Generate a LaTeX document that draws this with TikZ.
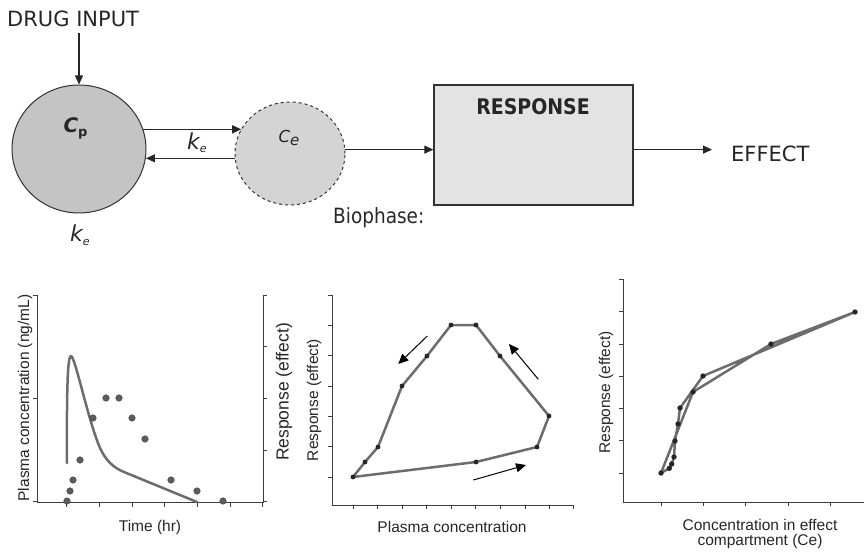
\documentclass[tikz,border=0pt]{standalone}
\usepackage{fontspec}
\setmainfont{DejaVu Sans}
\newfontfamily\narrowfont{DejaVu Sans}[FakeStretch=0.88]
\newfontfamily\plotfont{Liberation Sans}
\usetikzlibrary{arrows.meta,shapes.geometric}

\definecolor{cpgray}{RGB}{196,196,196}
\definecolor{cegray}{RGB}{212,212,212}
\definecolor{boxgray}{RGB}{227,227,227}
\definecolor{edgegray}{RGB}{50,50,50}
\definecolor{axisgray}{RGB}{60,60,60}
\definecolor{curvegray}{RGB}{108,108,108}
\definecolor{dotgray}{RGB}{92,92,92}

\begin{document}
\begin{tikzpicture}[x=1pt,y=-1pt,
  arr/.style={-{Triangle[length=9pt,width=8pt]}, line width=1.1pt, draw=black!85},
  toptext/.style={font=\fontsize{21}{24}\selectfont, text=black!85, inner sep=0pt},
  symlabel/.style={inner sep=0pt, anchor=base, text=black!85},
  axisline/.style={draw=axisgray, line width=0.9pt},
  curve/.style={draw=curvegray, line width=2.5pt, line join=round, line cap=round},
  plotlabel/.style={font=\plotfont\fontsize{15.5}{15}\selectfont, text=black!85, inner sep=0pt},
  flowarrow/.style={-{Triangle[length=10pt,width=9pt]}, line width=1pt, draw=black}
]
\useasboundingbox (0,0) rectangle (864,553);

% ---------------- compartment model ----------------
\node[toptext, anchor=base west] (drug) at (7,27) {DRUG INPUT};
\node[ellipse, draw=edgegray, line width=1pt, fill=cpgray,
      minimum width=134pt, minimum height=128pt, inner sep=0pt] (cp) at (79,149) {};
\node[ellipse, draw=edgegray, line width=1pt, dashed, fill=cegray,
      minimum width=110pt, minimum height=103pt, inner sep=0pt] (ce) at (290,153.5) {};
\node[rectangle, draw=edgegray, line width=1.3pt, fill=boxgray,
      minimum width=199pt, minimum height=120pt, inner sep=0pt] (box) at (533.5,145) {};
\node[toptext, anchor=west, inner xsep=19pt] (effect) at (712,154) {EFFECT};

\node[symlabel] (cplab) at (75.5,133)
  {{\fontsize{20}{20}\selectfont\bfseries\itshape C}\raisebox{-4pt}{\fontsize{13}{13}\selectfont\bfseries p}};
\node[symlabel] (celab) at (289,143)
  {{\fontsize{16.5}{16}\selectfont\itshape C}\raisebox{-3pt}{\fontsize{15}{15}\selectfont\itshape e}};
\node[symlabel] (kmid) at (197,150)
  {{\fontsize{22}{22}\selectfont\itshape k}\raisebox{-3pt}{\fontsize{11}{11}\selectfont\itshape e}};
\node[symlabel] (kbot) at (80,242)
  {{\fontsize{22}{22}\selectfont\itshape k}\raisebox{-4pt}{\fontsize{11}{11}\selectfont\itshape e}};
\node[inner sep=0pt, anchor=base west, text=black!85] (bio) at (333,224)
  {\narrowfont\fontsize{21}{21}\selectfont Biophase:};
\node[symlabel] (resp) at (533,115)
  {\narrowfont\fontsize{21.5}{22}\selectfont\bfseries RESPONSE};

\draw[arr] ([yshift=-6pt]drug.base -| cp.north) -- (cp.north);
\draw[arr] (cp.17.5) -- (cp.17.5 -| ce.153.3);
\draw[arr] (ce.-175.3) -- (ce.-175.3 -| cp.-7.7);
\draw[arr] (ce.4.7) -- (ce.4.7 -| box.west);
\draw[arr] (box.east |- ce.4.7) -- (effect.west |- ce.4.7);

% ---------------- plot 1: concentration and response vs time ----------------
\draw[axisline] (37,295) -- (37,502) -- (263,502) -- (263,295);
\foreach \y in {295,398.3,501.7} \draw[axisline] (33,\y) -- (37,\y);
\foreach \y in {295,346.7,398.3,450,501.7} \draw[axisline] (263,\y) -- (267,\y);
\foreach \x in {66.7,99.3,132,164.7,197.3,230,262.7} \draw[axisline] (\x,502) -- (\x,507);
\draw[curve] (67,463) .. controls (66.5,380) and (68,356) .. (71,356)
  .. controls (75,356) and (88,420) .. (100,448)
  .. controls (106,461) and (114,468) .. (124,472) -- (197,502);
\foreach \p in {(67,501),(70,491),(73,480),(80,460),(93,418),(106,398),(119,398),
                (132,418),(145,439),(171,480),(197,491),(223,501)}
  \filldraw[fill=dotgray, draw=black!75, line width=0.4pt] \p circle (3.3pt);
\node[plotlabel, rotate=90] (p1y) at (25,398) {Plasma concentration (ng/mL)};
\node[plotlabel, rotate=90, font=\plotfont\fontsize{17.5}{17}\selectfont] (p1r) at (284,392) {Response (effect)};
\node[plotlabel] (p1x) at (150,527) {Time (hr)};

% ---------------- plot 2: hysteresis loop ----------------
\draw[axisline] (332,295) -- (332,505) -- (573,505);
\foreach \y in {295,325.3,355.7,386,416.3,446.7,477} \draw[axisline] (328,\y) -- (332,\y);
\foreach \x in {353.3,377.7,402,426.7,451,475.7,500,525,549.3,573.3} \draw[axisline] (\x,505) -- (\x,509);
\draw[curve] (353,477) -- (365,462) -- (378,447) -- (402,386) -- (427,356) -- (451,325)
  -- (476,325) -- (500,356) -- (549,416) -- (537,447) -- (476,462) -- cycle;
\foreach \p in {(353,477),(365,462),(378,447),(402,386),(427,356),(451,325),
                (476,325),(500,356),(549,416),(537,447),(476,462)}
  \fill[black!85] \p circle (2.4pt);
\draw[flowarrow] (427.3,336) -- (398.3,364);
\draw[flowarrow] (538.3,379.3) -- (509,344);
\draw[flowarrow] (473.3,480) -- (526,465);
\node[plotlabel, rotate=90] (p2y) at (314,400) {Response (effect)};
\node[plotlabel] (p2x) at (452,527) {Plasma concentration};

% ---------------- plot 3: response vs effect-site concentration ----------------
\draw[axisline] (623,279) -- (623,502) -- (864,502);
\foreach \y in {279,311.7,344,376,408.3,440.7,473} \draw[axisline] (619,\y) -- (623,\y);
\foreach \x in {661,703.3,745.7,788,830.3} \draw[axisline] (\x,502) -- (\x,506);
\draw[curve] (661,473) -- (693,392) -- (771,344) -- (855,312)
  -- (703,376) -- (680,408) -- (678,424) -- (675,441) -- (674,457)
  -- (671.7,464) -- (669.3,468.3) -- cycle;
\foreach \p in {(661,473),(669.3,468.3),(671.7,464),(674,457),(675,441),(678,424),
                (680,408),(693,392),(703,376),(771,344),(855,312)}
  \fill[black!85] \p circle (2.7pt);
\node[plotlabel, rotate=90] (p3y) at (606,392.5) {Response (effect)};
\node[plotlabel, align=center] (p3x) at (760,534) {Concentration in effect\\compartment (Ce)};
\end{tikzpicture}
\end{document}
